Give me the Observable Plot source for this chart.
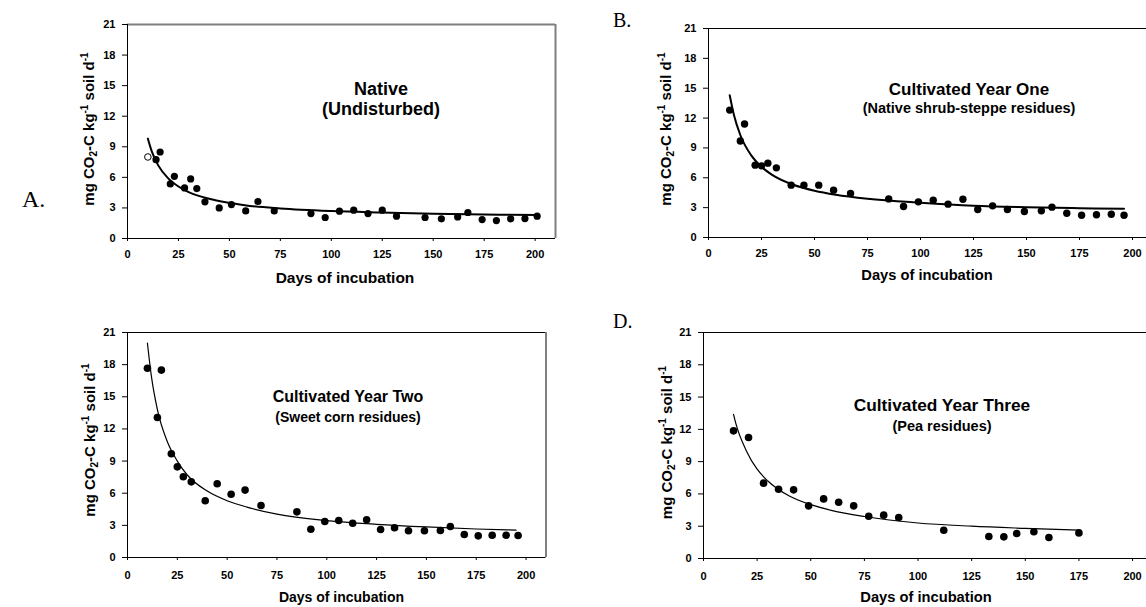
<!DOCTYPE html>
<html>
<head>
<meta charset="utf-8">
<script src="https://cdn.jsdelivr.net/npm/d3@7"></script>
<script src="https://cdn.jsdelivr.net/npm/@observablehq/plot@0.6"></script>
<style>
  html, body { margin: 0; padding: 0; background: #fff; }
  #fig { position: relative; width: 1146px; height: 607px; overflow: hidden; background: #fff; }
  #fig > div { position: absolute; }
</style>
</head>
<body>
<div id="fig"></div>
<script>
// ---------- axis ticks ----------
const xTicks = [0, 25, 50, 75, 100, 125, 150, 175, 200];
const yTicks = [0, 3, 6, 9, 12, 15, 18, 21];
const xLabel = "Days of incubation";

// ---------- Panel A: Native (Undisturbed) ----------
const aDays = [14, 16, 21, 23, 28, 31, 34, 38, 45, 51, 58, 64, 72, 90, 97, 104, 111, 118, 125, 132, 146, 154, 162, 167, 174, 181, 188, 195, 201];
const aVals = [7.74, 8.49, 5.36, 6.1, 4.96, 5.85, 4.9, 3.6, 3.0, 3.33, 2.71, 3.63, 2.71, 2.45, 2.06, 2.68, 2.78, 2.45, 2.78, 2.19, 2.06, 1.93, 2.12, 2.55, 1.86, 1.76, 1.93, 1.96, 2.19];
const aOpenDays = [10];
const aOpenVals = [8.0];
const aFitDays = [10, 12, 15, 20, 25, 30, 40, 50, 60, 75, 100, 125, 150, 175, 201];
const aFitVals = [9.8, 8.5, 7.2, 5.9, 5.1, 4.55, 3.9, 3.5, 3.2, 2.95, 2.7, 2.55, 2.42, 2.35, 2.3];

// ---------- Panel B: Cultivated Year One ----------
const bDays = [10, 15, 17, 22, 25, 28, 32, 39, 45, 52, 59, 67, 85, 92, 99, 106, 113, 120, 127, 134, 141, 149, 157, 162, 169, 176, 183, 190, 196];
const bVals = [12.8, 9.7, 11.4, 7.27, 7.2, 7.47, 7.0, 5.26, 5.26, 5.26, 4.76, 4.42, 3.88, 3.11, 3.58, 3.75, 3.35, 3.85, 2.81, 3.18, 2.81, 2.61, 2.68, 3.05, 2.44, 2.24, 2.28, 2.34, 2.24];
const bFitDays = [10, 12, 15, 20, 25, 30, 40, 50, 60, 75, 100, 125, 150, 175, 196];
const bFitVals = [14.3, 12.3, 10.3, 8.3, 7.1, 6.3, 5.3, 4.7, 4.3, 3.9, 3.5, 3.2, 3.05, 2.95, 2.88];

// ---------- Panel C: Cultivated Year Two ----------
const cDays = [10, 15, 17, 22, 25, 28, 32, 39, 45, 52, 59, 67, 85, 92, 99, 106, 113, 120, 127, 134, 141, 149, 157, 162, 169, 176, 183, 190, 196];
const cVals = [17.67, 13.07, 17.49, 9.68, 8.46, 7.53, 7.06, 5.29, 6.88, 5.91, 6.29, 4.85, 4.26, 2.64, 3.36, 3.45, 3.2, 3.52, 2.61, 2.77, 2.49, 2.49, 2.52, 2.89, 2.15, 2.02, 2.08, 2.08, 2.05];
const cFitDays = [10, 12, 15, 20, 25, 30, 40, 50, 60, 75, 100, 125, 150, 175, 195];
const cFitVals = [20.0, 16.9, 13.8, 10.8, 9.0, 7.7, 6.2, 5.3, 4.7, 4.05, 3.45, 3.1, 2.85, 2.66, 2.55];

// ---------- Panel D: Cultivated Year Three ----------
const dDays = [14, 21, 28, 35, 42, 49, 56, 63, 70, 77, 84, 91, 112, 133, 140, 146, 154, 161, 175];
const dVals = [11.86, 11.24, 7.0, 6.44, 6.38, 4.89, 5.54, 5.23, 4.89, 3.93, 4.03, 3.81, 2.63, 2.04, 2.01, 2.32, 2.48, 1.95, 2.38];
const dFitDays = [14, 15, 20, 25, 30, 40, 50, 60, 75, 100, 125, 150, 175];
const dFitVals = [13.4, 12.6, 10.0, 8.3, 7.2, 5.8, 5.0, 4.45, 3.9, 3.3, 3.0, 2.8, 2.63];

// ---------- panel builder ----------
const SANS = "'Liberation Sans', Arial, Helvetica, sans-serif";
const SERIF = "'Liberation Serif', 'Times New Roman', serif";
const zip = (xs, ys) => xs.map((x, i) => ({x, y: ys[i]}));

function addText(s, x, y, size, str, opts = {}) {
  return s.append("text").attr("x", x).attr("y", y)
    .attr("text-anchor", opts.anchor || "middle")
    .attr("font-family", opts.family || SANS)
    .attr("font-weight", opts.weight || "bold")
    .attr("font-size", size).attr("fill", "#000").text(str);
}

function panel(cfg) {
  const pts = zip(cfg.days, cfg.vals);
  const fit = zip(cfg.fitDays, cfg.fitVals);
  const marks = [
    Plot.ruleY([21], {stroke: cfg.topColor, strokeWidth: cfg.topWidth}),
    cfg.rightFrame ? Plot.ruleX([cfg.xMax], {stroke: "#7f7f7f", strokeWidth: 2}) : null,
    Plot.ruleX([0], {stroke: "#000", strokeWidth: 1}),
    Plot.ruleY([0], {stroke: "#000", strokeWidth: 1}),
    Plot.line(fit, {x: "x", y: "y", stroke: "#000", strokeWidth: cfg.lineWidth, curve: "monotone-x"}),
    Plot.dot(pts, {x: "x", y: "y", r: cfg.r, fill: "#000", stroke: "none"})
  ];
  if (cfg.openDays) {
    marks.push(Plot.dot(zip(cfg.openDays, cfg.openVals), {x: "x", y: "y", r: cfg.r - 0.3, fill: "#fff", stroke: "#000", strokeWidth: 1}));
  }
  const svg = Plot.plot({
    width: cfg.w, height: cfg.h,
    marginLeft: cfg.ml, marginRight: cfg.mr, marginTop: cfg.mt, marginBottom: cfg.mb,
    style: {fontFamily: SANS, fontSize: "11px", fontWeight: "bold", color: "#000", background: "transparent", overflow: "visible"},
    x: {domain: [0, cfg.xMax], ticks: xTicks, tickSize: 3, tickPadding: cfg.xPad, label: null},
    y: {domain: [0, 21], ticks: yTicks, tickSize: 5, tickPadding: 7, label: null},
    marks: marks.filter(Boolean)
  });
  const s = d3.select(svg);
  addText(s, cfg.t1[0], cfg.t1[1], cfg.t1[2], cfg.title1);
  addText(s, cfg.t2[0], cfg.t2[1], cfg.t2[2], cfg.title2);
  addText(s, cfg.xl[0], cfg.xl[1], cfg.xl[2], xLabel);
  // y label with sub/superscripts
  const yl = s.append("text").attr("transform", `translate(${cfg.yl[0]},${cfg.yl[1]}) rotate(-90)`)
    .attr("text-anchor", "middle").attr("font-family", SANS).attr("font-weight", "bold")
    .attr("font-size", 15).attr("fill", "#000");
  yl.append("tspan").text("mg CO");
  yl.append("tspan").attr("font-size", 10).attr("dy", 3).text("2");
  yl.append("tspan").attr("dy", -3).text("-C kg");
  yl.append("tspan").attr("font-size", 10).attr("dy", -6).text("-1");
  yl.append("tspan").attr("dy", 6).text(" soil d");
  yl.append("tspan").attr("font-size", 10).attr("dy", -6).text("-1");
  if (cfg.letter) {
    addText(s, cfg.lp[0], cfg.lp[1], cfg.lp[2], cfg.letter, {anchor: "start", family: SERIF, weight: "normal"});
  }
  const holder = document.createElement("div");
  holder.style.left = cfg.left + "px";
  holder.style.top = cfg.top + "px";
  holder.appendChild(svg);
  document.getElementById("fig").appendChild(holder);
}

panel({
  left: 0, top: 0, w: 573, h: 300, ml: 127, mr: 18, mt: 24, mb: 62, xMax: 210, rightFrame: true,
  topColor: "#7f7f7f", topWidth: 2, xPad: 8.5, lineWidth: 2, r: 3.6,
  days: aDays, vals: aVals, openDays: aOpenDays, openVals: aOpenVals, fitDays: aFitDays, fitVals: aFitVals,
  title1: "Native", title2: "(Undisturbed)", t1: [381, 95, 18], t2: [381, 115, 18],
  xl: [345, 283, 15.5], yl: [94, 129], letter: "A.", lp: [22, 207, 24]
});
panel({
  left: 573, top: 0, w: 573, h: 300, ml: 135, mr: 0, mt: 28, mb: 63, xMax: 206.6, rightFrame: false,
  topColor: "#000", topWidth: 1, xPad: 8.5, lineWidth: 2, r: 3.7,
  days: bDays, vals: bVals, fitDays: bFitDays, fitVals: bFitVals,
  title1: "Cultivated Year One", title2: "(Native shrub-steppe residues)", t1: [396, 95, 17], t2: [396, 113, 14.5],
  xl: [354, 280, 14.7], yl: [98, 129], letter: "B.", lp: [40, 27, 20]
});
panel({
  left: 0, top: 300, w: 573, h: 307, ml: 127, mr: 27.5, mt: 32, mb: 50, xMax: 210, rightFrame: true,
  topColor: "#000", topWidth: 1, xPad: 11, lineWidth: 1.2, r: 3.8,
  days: cDays, vals: cVals, fitDays: cFitDays, fitVals: cFitVals,
  title1: "Cultivated Year Two", title2: "(Sweet corn residues)", t1: [348, 102, 16], t2: [348, 122, 14],
  xl: [341.5, 301.5, 14], yl: [95, 140]
});
panel({
  left: 573, top: 300, w: 573, h: 307, ml: 130, mr: 0, mt: 32, mb: 49, xMax: 206.5, rightFrame: false,
  topColor: "#000", topWidth: 1, xPad: 10.5, lineWidth: 1.2, r: 3.8,
  days: dDays, vals: dVals, fitDays: dFitDays, fitVals: dFitVals,
  title1: "Cultivated Year Three", title2: "(Pea residues)", t1: [369, 111, 17.3], t2: [369, 131, 14.5],
  xl: [353, 301.5, 14.7], yl: [98.5, 142.5], letter: "D.", lp: [40, 28, 20]
});
</script>
</body>
</html>
